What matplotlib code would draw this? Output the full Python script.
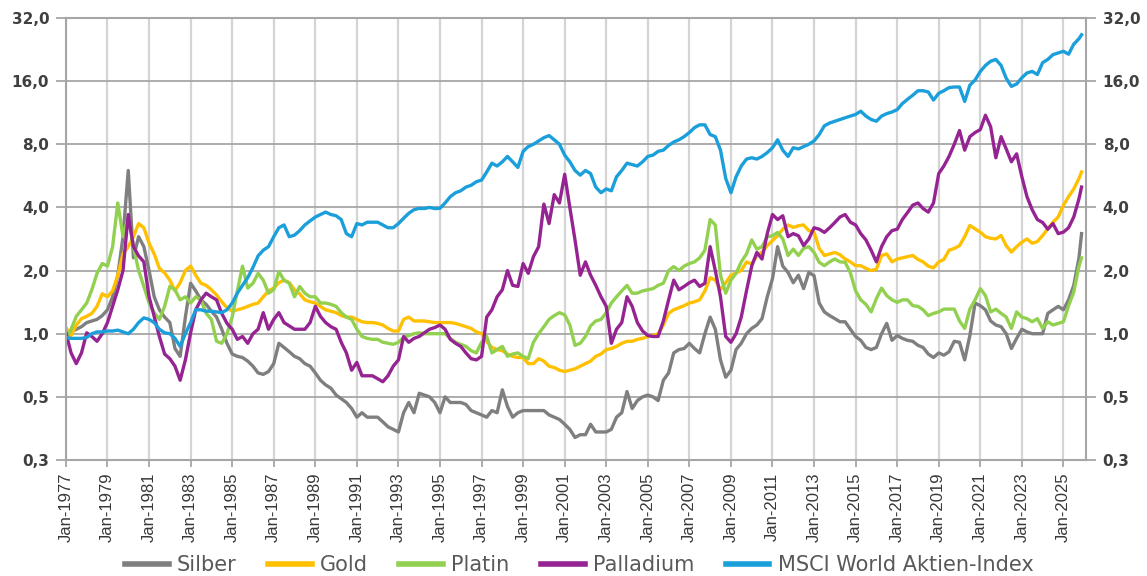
import matplotlib
matplotlib.use("Agg")
import matplotlib.pyplot as plt
import pandas as pd
from matplotlib.ticker import FixedLocator, FixedFormatter, NullLocator
from matplotlib.lines import Line2D

# ---- data (relative performance, Jan-1977 = 1), quarterly readings + last point ----
dates = list(pd.date_range("1977-01-01", "2025-10-01", freq="QS")) + [pd.Timestamp("2025-11-15")]

silber = [
    1.0, 1.02, 1.05, 1.08,   1.13, 1.15, 1.17, 1.22,   1.3, 1.5, 1.9, 2.9,
    6.0, 2.3, 2.9, 2.6,      2.0, 1.5, 1.3, 1.2,       1.13, 0.85, 0.78, 1.2,
    1.74, 1.6, 1.45, 1.38,   1.28, 1.2, 1.05, 0.9,     0.8, 0.78, 0.77, 0.74,
    0.7, 0.65, 0.64, 0.66,   0.72, 0.9, 0.86, 0.82,    0.78, 0.76, 0.72, 0.7,
    0.65, 0.6, 0.57, 0.55,   0.51, 0.49, 0.47, 0.44,   0.40, 0.42, 0.40, 0.40,
    0.40, 0.38, 0.36, 0.35,  0.34, 0.42, 0.47, 0.42,   0.52, 0.51, 0.50, 0.47,
    0.42, 0.50, 0.47, 0.47,  0.47, 0.46, 0.43, 0.42,   0.41, 0.40, 0.43, 0.42,
    0.54, 0.45, 0.40, 0.42,  0.43, 0.43, 0.43, 0.43,   0.43, 0.41, 0.40, 0.39,
    0.37, 0.35, 0.32, 0.33,  0.33, 0.37, 0.34, 0.34,   0.34, 0.35, 0.40, 0.42,
    0.53, 0.44, 0.48, 0.50,  0.51, 0.50, 0.48, 0.60,   0.65, 0.81, 0.84, 0.85,
    0.90, 0.85, 0.81, 1.0,   1.2, 1.05, 0.75, 0.62,    0.67, 0.84, 0.9, 1.0,
    1.06, 1.1, 1.18, 1.5,    1.83, 2.6, 2.1, 1.96,     1.75, 1.9, 1.64, 1.96,
    1.89, 1.4, 1.27, 1.22,   1.18, 1.14, 1.14, 1.05,   0.97, 0.93, 0.86, 0.84,
    0.86, 1.0, 1.12, 0.93,   0.98, 0.95, 0.93, 0.92,   0.88, 0.86, 0.80, 0.77,
    0.81, 0.79, 0.82, 0.92,  0.91, 0.75, 0.98, 1.40,   1.36, 1.30, 1.15, 1.10,
    1.08, 1.0, 0.85, 0.95,   1.05, 1.02, 1.0, 1.0,     1.0, 1.25, 1.30, 1.35,
    1.30, 1.45, 1.7, 2.3,    3.0,
]

gold = [
    1.07, 0.98, 1.1, 1.18,   1.21, 1.25, 1.35, 1.55,   1.5, 1.6, 1.9, 2.4,
    2.6, 2.9, 3.35, 3.2,     2.7, 2.4, 2.05, 1.95,     1.8, 1.6, 1.75, 2.0,
    2.1, 1.9, 1.74, 1.7,     1.62, 1.53, 1.42, 1.33,   1.28, 1.3, 1.32, 1.35,
    1.38, 1.4, 1.5, 1.6,     1.65, 1.75, 1.8, 1.75,    1.62, 1.55, 1.45, 1.42,
    1.4, 1.35, 1.3, 1.28,    1.26, 1.22, 1.2, 1.2,     1.17, 1.14, 1.13, 1.13,
    1.12, 1.1, 1.06, 1.03,   1.03, 1.17, 1.2, 1.15,    1.15, 1.15, 1.14, 1.13,
    1.13, 1.13, 1.13, 1.12,  1.1, 1.08, 1.06, 1.02,    1.0, 0.92, 0.86, 0.84,
    0.83, 0.8, 0.78, 0.77,   0.77, 0.72, 0.72, 0.76,   0.74, 0.7, 0.69, 0.67,
    0.66, 0.67, 0.68, 0.7,   0.72, 0.74, 0.78, 0.8,    0.84, 0.85, 0.87, 0.9,
    0.92, 0.92, 0.94, 0.95,  0.97, 0.98, 1.0, 1.1,     1.25, 1.3, 1.33, 1.36,
    1.4, 1.42, 1.45, 1.6,    1.85, 1.8, 1.62, 1.75,    1.9, 1.95, 2.0, 2.2,
    2.15, 2.35, 2.45, 2.63,  2.78, 2.93, 3.15, 3.3,    3.21, 3.27, 3.3, 3.1,
    3.04, 2.55, 2.36, 2.4,   2.44, 2.38, 2.27, 2.2,    2.11, 2.11, 2.05, 2.0,
    2.03, 2.36, 2.4, 2.2,    2.27, 2.3, 2.33, 2.36,    2.26, 2.2, 2.1, 2.06,
    2.2, 2.26, 2.5, 2.55,    2.63, 2.9, 3.28, 3.16,    3.05, 2.9, 2.85, 2.83,
    2.94, 2.63, 2.45, 2.6,   2.73, 2.83, 2.7, 2.75,    2.94, 3.16, 3.4, 3.6,
    4.1, 4.5, 4.9, 5.5,      5.9,
]

platin = [
    0.94, 1.05, 1.21, 1.3,   1.4, 1.62, 1.94, 2.16,    2.1, 2.6, 4.2, 2.9,
    3.6, 2.6, 2.0, 1.68,     1.4, 1.26, 1.17, 1.35,    1.68, 1.62, 1.45, 1.5,
    1.4, 1.5, 1.45, 1.25,    1.17, 0.92, 0.9, 1.0,     1.2, 1.6, 2.1, 1.65,
    1.74, 1.94, 1.8, 1.56,   1.62, 1.98, 1.8, 1.74,    1.5, 1.68, 1.56, 1.5,
    1.5, 1.4, 1.4, 1.38,     1.35, 1.26, 1.2, 1.17,    1.05, 0.97, 0.95, 0.94,
    0.94, 0.91, 0.9, 0.89,   0.91, 0.96, 0.98, 1.0,    1.01, 1.0, 1.0, 1.0,
    1.0, 1.0, 0.95, 0.91,    0.89, 0.87, 0.83, 0.81,   0.91, 0.97, 0.81, 0.84,
    0.87, 0.78, 0.8, 0.81,   0.78, 0.76, 0.91, 1.0,    1.08, 1.17, 1.22, 1.26,
    1.23, 1.1, 0.88, 0.9,    0.97, 1.09, 1.15, 1.17,   1.26, 1.4, 1.5, 1.6,
    1.7, 1.56, 1.56, 1.6,    1.62, 1.64, 1.7, 1.74,    2.0, 2.09, 2.0, 2.1,
    2.16, 2.2, 2.3, 2.5,     3.5, 3.3, 1.9, 1.56,      1.8, 1.94, 2.2, 2.4,
    2.8, 2.53, 2.6, 2.9,     2.93, 3.04, 2.83, 2.36,   2.53, 2.36, 2.55, 2.6,
    2.44, 2.19, 2.11, 2.2,   2.27, 2.2, 2.19, 1.95,    1.6, 1.45, 1.38, 1.27,
    1.47, 1.65, 1.52, 1.45,  1.41, 1.45, 1.45, 1.36,   1.35, 1.3, 1.22, 1.25,
    1.27, 1.31, 1.31, 1.31,  1.15, 1.06, 1.31, 1.45,   1.64, 1.52, 1.27, 1.31,
    1.25, 1.2, 1.06, 1.27,   1.2, 1.18, 1.14, 1.18,    1.06, 1.14, 1.1, 1.12,
    1.14, 1.36, 1.58, 2.1,   2.3,
]

palladium = [
    1.01, 0.81, 0.72, 0.81,  1.01, 0.97, 0.92, 1.0,    1.13, 1.35, 1.62, 2.0,
    3.7, 2.6, 2.35, 2.2,     1.5, 1.21, 0.97, 0.8,     0.76, 0.7, 0.6, 0.75,
    1.01, 1.3, 1.45, 1.56,   1.5, 1.45, 1.25, 1.12,    1.05, 0.94, 0.97, 0.9,
    1.0, 1.05, 1.26, 1.05,   1.17, 1.26, 1.13, 1.09,   1.05, 1.05, 1.05, 1.13,
    1.35, 1.21, 1.13, 1.08,  1.05, 0.91, 0.81, 0.67,   0.73, 0.63, 0.63, 0.63,
    0.61, 0.59, 0.63, 0.7,   0.75, 0.97, 0.91, 0.95,   0.97, 1.01, 1.05, 1.07,
    1.1, 1.05, 0.94, 0.9,    0.87, 0.81, 0.76, 0.75,   0.78, 1.2, 1.3, 1.5,
    1.62, 2.0, 1.7, 1.68,    2.16, 1.94, 2.33, 2.6,    4.15, 3.35, 4.6, 4.2,
    5.75, 4.0, 2.8, 1.9,     2.2, 1.9, 1.7, 1.5,       1.35, 0.9, 1.05, 1.13,
    1.5, 1.35, 1.13, 1.03,   0.98, 0.97, 0.97, 1.15,   1.45, 1.8, 1.62, 1.68,
    1.75, 1.8, 1.68, 1.74,   2.6, 2.0, 1.5, 0.97,      0.91, 1.0, 1.2, 1.6,
    2.1, 2.44, 2.27, 3.0,    3.7, 3.5, 3.65, 2.9,      3.0, 2.93, 2.63, 2.83,
    3.2, 3.15, 3.04, 3.2,    3.39, 3.6, 3.7, 3.4,      3.3, 3.0, 2.8, 2.5,
    2.2, 2.6, 2.9, 3.1,      3.15, 3.5, 3.78, 4.1,     4.2, 3.95, 3.8, 4.2,
    5.8, 6.3, 7.0, 8.0,      9.3, 7.5, 8.7, 9.1,       9.4, 11.0, 9.7, 6.9,
    8.7, 7.6, 6.6, 7.2,      5.6, 4.5, 3.9, 3.5,       3.39, 3.15, 3.35, 3.0,
    3.05, 3.2, 3.6, 4.4,     5.0,
]

msci = [
    0.96, 0.95, 0.95, 0.95,  0.96, 1.0, 1.02, 1.02,    1.03, 1.03, 1.04, 1.02,
    1.0, 1.05, 1.13, 1.19,   1.17, 1.13, 1.05, 1.01,   1.0, 0.95, 0.87, 1.0,
    1.13, 1.3, 1.3, 1.28,    1.28, 1.27, 1.26, 1.3,    1.4, 1.56, 1.7, 1.85,
    2.07, 2.35, 2.5, 2.6,    2.9, 3.2, 3.3, 2.9,       2.95, 3.1, 3.3, 3.45,
    3.6, 3.7, 3.8, 3.7,      3.65, 3.5, 3.0, 2.9,      3.35, 3.3, 3.4, 3.4,
    3.4, 3.3, 3.2, 3.2,      3.35, 3.55, 3.75, 3.9,    3.96, 3.95, 4.0, 3.95,
    3.96, 4.2, 4.5, 4.7,     4.8, 5.0, 5.1, 5.3,       5.4, 5.9, 6.5, 6.3,
    6.6, 7.0, 6.6, 6.2,      7.4, 7.8, 8.0, 8.3,       8.6, 8.8, 8.4, 8.0,
    7.1, 6.6, 6.0, 5.7,      6.0, 5.8, 5.0, 4.7,       4.9, 4.8, 5.6, 6.0,
    6.5, 6.4, 6.3, 6.6,      7.0, 7.1, 7.4, 7.5,       7.9, 8.2, 8.4, 8.7,
    9.1, 9.6, 9.9, 9.9,      8.9, 8.7, 7.5, 5.5,       4.7, 5.6, 6.3, 6.8,
    6.9, 6.8, 7.0, 7.3,      7.7, 8.4, 7.5, 7.0,       7.7, 7.6, 7.8, 8.0,
    8.3, 8.9, 9.8, 10.1,     10.3, 10.5, 10.7, 10.9,   11.1, 11.5, 10.9, 10.5,
    10.3, 10.9, 11.2, 11.4,  11.7, 12.5, 13.1, 13.7,   14.4, 14.4, 14.2, 13.0,
    14.0, 14.4, 14.9, 15.0,  15.0, 12.8, 15.3, 16.2,   17.8, 19.0, 19.9, 20.3,
    19.0, 16.5, 15.1, 15.5,  16.6, 17.5, 17.8, 17.2,   19.6, 20.3, 21.4, 21.8,
    22.2, 21.5, 24.0, 25.5,  26.6,
]

series_names = ["Silber", "Gold", "Platin", "Palladium", "MSCI World Aktien-Index"]
series_values = [silber, gold, platin, palladium, msci]
series_colors = ["#7f7f7f", "#ffc000", "#92d050", "#952492", "#1a9fdb"]

y_ticks = [0.25, 0.5, 1, 2, 4, 8, 16, 32]
y_labels = ["0,3", "0,5", "1,0", "2,0", "4,0", "8,0", "16,0", "32,0"]
x_tick_years = list(range(1977, 2026, 2))

# ---- figure ----
fig = plt.figure(figsize=(11.47, 5.76), dpi=100)
ax = fig.add_axes([0.0575, 0.2014, 0.8893, 0.7674])

for name, vals, col in zip(series_names, series_values, series_colors):
    ax.plot(dates[:len(vals)], vals, color=col, lw=2.4, label=name, solid_joinstyle="round")

ax.set_yscale("log", base=2)
ax.set_ylim(0.25, 32)
ax.yaxis.set_major_locator(FixedLocator(y_ticks))
ax.yaxis.set_major_formatter(FixedFormatter(y_labels))
ax.yaxis.set_minor_locator(NullLocator())

xt = [pd.Timestamp(f"{y}-01-01") for y in x_tick_years]
ax.set_xticks(xt)
ax.set_xticklabels([f"Jan-{y}" for y in x_tick_years], rotation=90,
                   fontsize=12, color="#383838", family=["Liberation Sans", "DejaVu Sans"])
ax.xaxis.set_minor_locator(NullLocator())
ax.set_xlim(pd.Timestamp("1977-01-01"), pd.Timestamp("2026-02-01"))

ax.set_axisbelow(True)
ax.grid(axis="y", color="#a6a6a6", lw=1.3)
ax.grid(axis="x", color="#d4d4d4", lw=1.6)
for s in ax.spines.values():
    s.set_color("#a6a6a6")
    s.set_linewidth(1.5)

ax.tick_params(axis="y", which="major", left=True, right=True, labelleft=True,
               labelright=True, length=7, width=1.3, color="#a6a6a6", pad=5,
               labelsize=11, labelcolor="#404040")
ax.tick_params(axis="x", which="major", length=5, width=1.3, color="#a6a6a6", pad=4)
for t in ax.yaxis.get_major_ticks():
    t.label1.set_fontweight("bold")
    t.label2.set_fontweight("bold")

handles = [Line2D([0], [0], color=c, lw=4) for c in series_colors]
fig.legend(handles, series_names, loc="center", bbox_to_anchor=(0.505, 0.019), ncol=5,
           frameon=False, fontsize=15, handlelength=2.1, handletextpad=0.4,
           columnspacing=1.5, labelcolor="#595959")

fig.savefig("out.png", dpi=100)
